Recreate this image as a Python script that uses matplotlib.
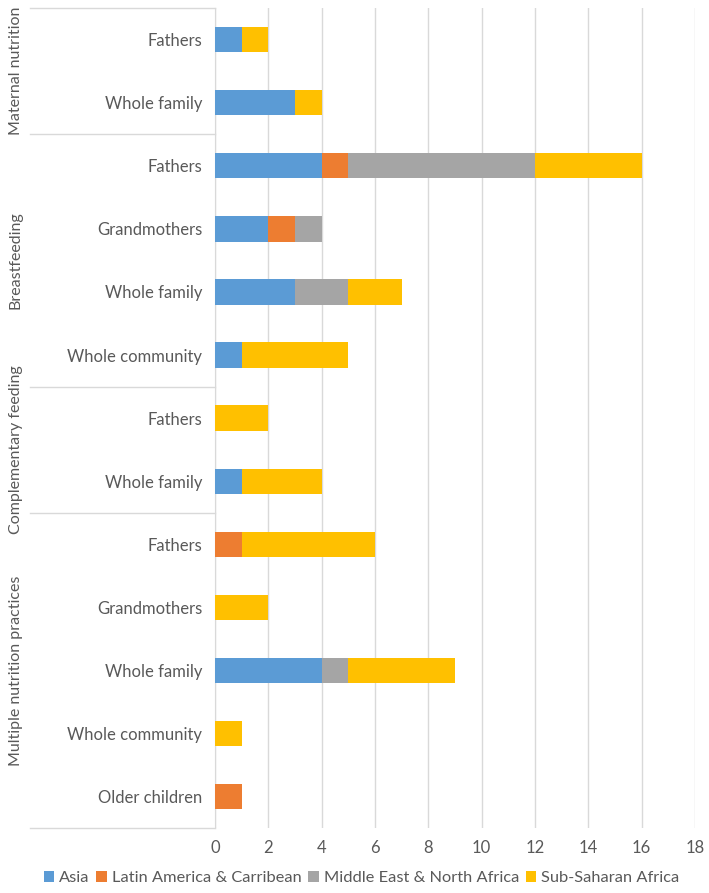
import matplotlib.pyplot as plt
import matplotlib.transforms as mtransforms
import numpy as np

plt.rcParams['font.family'] = ['Lato', 'DejaVu Sans']

# categories, top to bottom
groups = ['Maternal nutrition', 'Breastfeeding', 'Complementary feeding',
          'Multiple nutrition practices']
group_rows = [
    ['Fathers', 'Whole family'],
    ['Fathers', 'Grandmothers', 'Whole family', 'Whole community'],
    ['Fathers', 'Whole family'],
    ['Fathers', 'Grandmothers', 'Whole family', 'Whole community', 'Older children'],
]
regions = ['Asia', 'Latin America & Carribean', 'Middle East & North Africa',
           'Sub-Saharan Africa']
colors = ['#5B9BD5', '#ED7D31', '#A5A5A5', '#FFC000']

asia = [1, 3, 4, 2, 3, 1, 0, 1, 0, 0, 4, 0, 0]
lac  = [0, 0, 1, 1, 0, 0, 0, 0, 1, 0, 0, 0, 1]
mena = [0, 0, 7, 1, 2, 0, 0, 0, 0, 0, 1, 0, 0]
ssa  = [1, 1, 4, 0, 2, 4, 2, 3, 5, 2, 4, 1, 0]
series = [asia, lac, mena, ssa]

labels = [r for g in group_rows for r in g]
n = len(labels)
y = np.arange(n)

txt = '#595959'
fig = plt.figure(figsize=(7.09, 8.93), dpi=100)
ax = fig.add_axes([0.3032, 0.0728, 0.677, 0.918])

left = np.zeros(n)
for vals, c, name in zip(series, colors, regions):
    ax.barh(y, vals, left=left, height=0.4, color=c, label=name, zorder=3)
    left += np.array(vals)

ax.set_ylim(n - 0.5, -0.5)
ax.set_xlim(0, 18)
ax.set_xticks(range(0, 19, 2))
ax.set_yticks(y)
ax.set_yticklabels(labels)
ax.tick_params(axis='both', length=0, colors=txt, labelsize=12)
ax.tick_params(axis='y', pad=9)
ax.tick_params(axis='x', pad=9)
ax.grid(axis='x', color='#d9d9d9', lw=1, zorder=0)
for s in ['top', 'right', 'bottom']:
    ax.spines[s].set_visible(False)
ax.spines['left'].set_color('#d9d9d9')

# group separators and labels
trans = mtransforms.blended_transform_factory(ax.transAxes, ax.transData)
xl = -0.385
start = 0
bounds = [-0.5]
for g, rows in zip(groups, group_rows):
    end = start + len(rows)
    bounds.append(end - 0.5)
    ax.text(xl - 0.03, (start + end - 1) / 2, g, rotation=90, ha='center',
            va='center', color=txt, fontsize=11.5, transform=trans)
    start = end
for b in bounds:
    ax.plot([xl, 0], [b, b], color='#d9d9d9', lw=1, transform=trans, clip_on=False)

fig.legend(loc='lower center', bbox_to_anchor=(0.51, -0.008), ncol=4, frameon=False,
           handlelength=0.65, handleheight=0.65, handletextpad=0.3, columnspacing=0.4,
           fontsize=11.8, labelcolor=txt)

fig.savefig('out.png', dpi=100)
